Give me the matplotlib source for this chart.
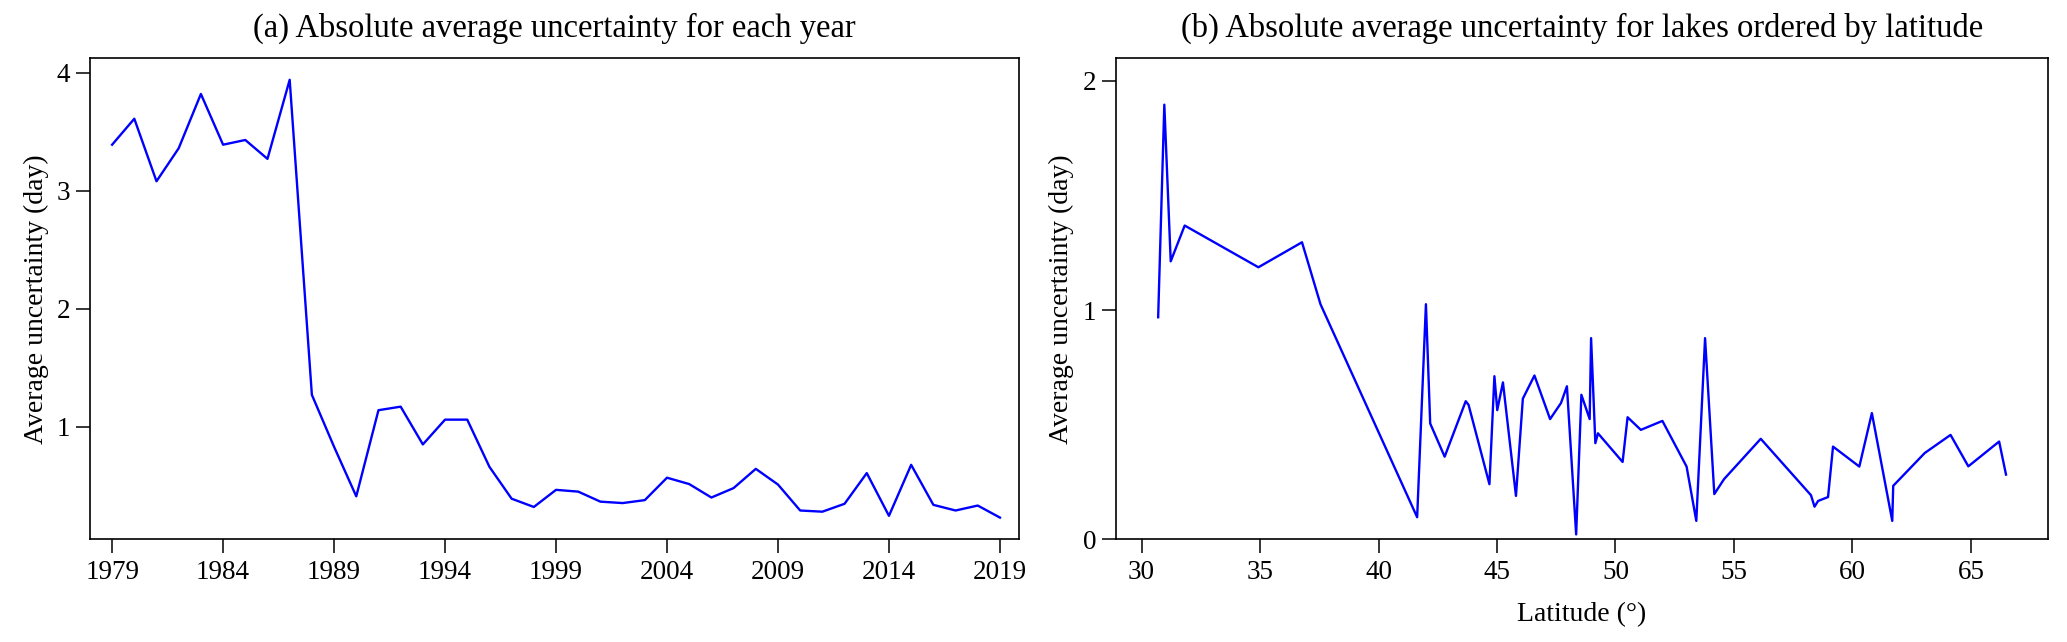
import matplotlib
matplotlib.use("Agg")
import matplotlib.pyplot as plt

plt.rcParams['font.family'] = ['Liberation Serif', 'DejaVu Serif']
plt.rcParams['mathtext.fontset'] = 'stix'

# Panel (a): yearly average uncertainty
years = list(range(1979, 2020))
year_unc = [3.39, 3.61, 3.08, 3.36, 3.82, 3.39, 3.43, 3.27, 3.94, 1.27,
            0.83, 0.41, 1.14, 1.17, 0.85, 1.06, 1.06, 0.66, 0.39, 0.32,
            0.465, 0.45, 0.365, 0.353, 0.378, 0.568, 0.514, 0.40, 0.48, 0.643,
            0.51, 0.29, 0.28, 0.347, 0.607, 0.245, 0.677, 0.338, 0.29, 0.332,
            0.23]
year_ticks = [1979, 1984, 1989, 1994, 1999, 2004, 2009, 2014, 2019]

# Panel (b): lakes ordered by latitude
lat = [30.70, 30.96, 31.23, 31.82, 34.93, 36.77, 37.55, 41.63, 42.00, 42.18,
       42.79, 43.68, 43.80, 44.68, 44.89, 45.01, 45.25, 45.80, 46.09, 46.58,
       47.24, 47.70, 47.95, 48.34, 48.56, 48.91, 48.97, 49.15, 49.26, 50.30,
       50.51, 51.07, 51.98, 53.00, 53.41, 53.78, 54.17, 54.58, 56.13, 58.25,
       58.40, 58.55, 58.97, 59.18, 60.29, 60.82, 61.68, 61.72, 63.05, 64.14,
       64.89, 66.19, 66.48]
lake_unc = [0.969, 1.896, 1.213, 1.369, 1.187, 1.296, 1.026, 0.097, 1.026, 0.506,
            0.361, 0.603, 0.587, 0.241, 0.712, 0.564, 0.685, 0.19, 0.614, 0.715,
            0.525, 0.595, 0.668, 0.022, 0.631, 0.525, 0.878, 0.42, 0.463, 0.338,
            0.533, 0.478, 0.517, 0.318, 0.081, 0.878, 0.198, 0.263, 0.439, 0.193,
            0.143, 0.168, 0.185, 0.405, 0.318, 0.551, 0.081, 0.234, 0.377, 0.456,
            0.319, 0.427, 0.283]
lat_ticks = [30, 35, 40, 45, 50, 55, 60, 65]

title_a = "(a) Absolute average uncertainty for each year"
title_b = "(b) Absolute average uncertainty for lakes ordered by latitude"
ylabel = "Average uncertainty (day)"
xlabel_b = "Latitude (°)"

fig = plt.figure(figsize=(20.67, 6.42), dpi=100)
ax1 = fig.add_axes([0.0435, 0.1597, 0.4495, 0.7501])
ax2 = fig.add_axes([0.5398, 0.1597, 0.4512, 0.7501])

TICK_FS = 19.5
LABEL_FS = 20
TITLE_FS = 23.5

ax1.plot(years, year_unc, color='#0000ff', lw=1.7)
ax1.set_xlim(1978.0, 2019.86)
ax1.set_xticks(year_ticks)
ax1.set_yticks([1, 2, 3, 4])
ax1.set_ylabel(ylabel, fontsize=LABEL_FS, labelpad=6)
ax1.set_title(title_a, fontsize=TITLE_FS, pad=15)

ax2.plot(lat, lake_unc, color='#0000ff', lw=1.7)
ax2.set_ylim(0, 2.1)
ax2.set_xticks(lat_ticks)
ax2.set_yticks([0, 1, 2])
ax2.set_ylabel(ylabel, fontsize=LABEL_FS, labelpad=6)
ax2.set_xlabel(xlabel_b, fontsize=LABEL_FS, labelpad=12)
ax2.set_title(title_b, fontsize=TITLE_FS, pad=15)

for ax in (ax1, ax2):
    ax.tick_params(axis='both', labelsize=TICK_FS, length=10, width=1.1)
    ax.tick_params(axis='x', pad=5)
    ax.tick_params(axis='y', pad=4)
    for sp in ax.spines.values():
        sp.set_linewidth(1.2)

fig.savefig("out.png", dpi=100)
